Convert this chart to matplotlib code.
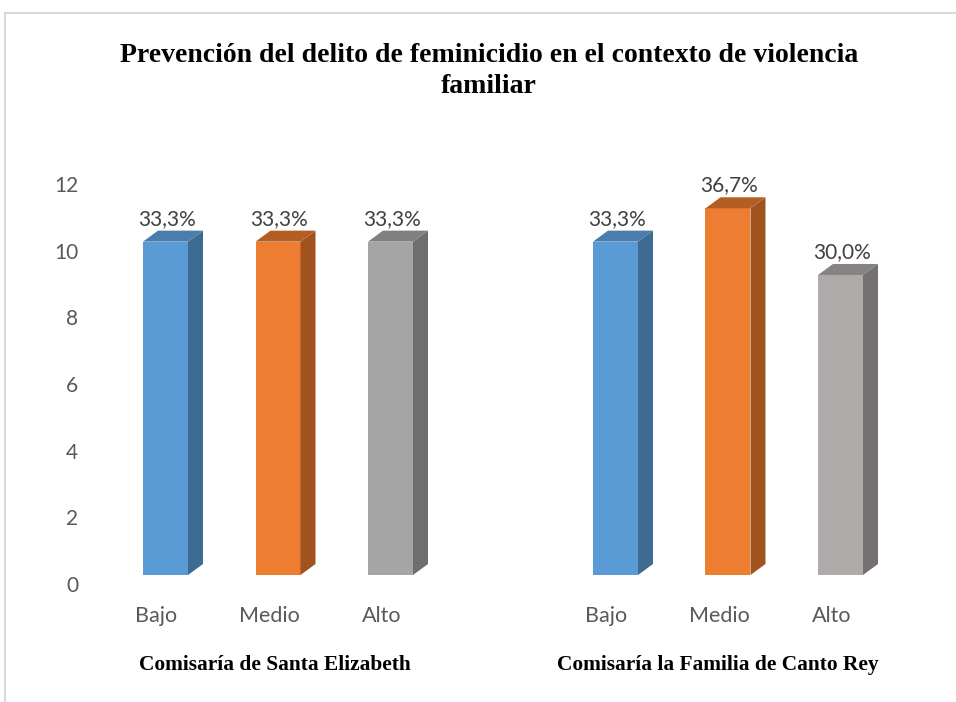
import matplotlib
matplotlib.use("Agg")
import matplotlib.pyplot as plt
from matplotlib.patches import Polygon
from matplotlib.lines import Line2D
from matplotlib.transforms import ScaledTranslation
import numpy as np

# ---- data ----
title = "Prevención del delito de feminicidio en el contexto de violencia\nfamiliar"
groups = ["Comisaría de Santa Elizabeth", "Comisaría la Familia de Canto Rey"]
levels = ["Bajo", "Medio", "Alto"]
santa_values = [10, 10, 10]
canto_values = [10, 11, 9]
y_ticks = [0, 2, 4, 6, 8, 10, 12]

# ---- styles ----
front_colors = [["#5B9BD5", "#ED7D31", "#A5A5A5"], ["#5B9BD5", "#ED7D31", "#AEAAAA"]]
side_colors = [["#3E6B92", "#A0531F", "#6E6E6E"], ["#3E6B92", "#A0531F", "#757171"]]
top_colors = [["#4A7DAE", "#B55E23", "#808080"], ["#4A7DAE", "#B55E23", "#878383"]]

W, H, DPI = 956, 702, 100
fig = plt.figure(figsize=(W / DPI, H / DPI), dpi=DPI)
fig.patch.set_facecolor("white")

ax_left_px, ax_right_px = 64.25, 941.75
ax_bottom_px, ax_top_px = 575, 158.3
ax = fig.add_axes([ax_left_px / W, (H - ax_bottom_px) / H,
                   (ax_right_px - ax_left_px) / W, (ax_bottom_px - ax_top_px) / H])
ax.set_xlim(-0.9, 6.9)
ax.set_ylim(0, 12.5)
for s in ax.spines.values():
    s.set_visible(False)
ax.set_facecolor("none")

bar_w = 0.4
dx = 15 / 112.5   # depth in x data units
dy = 11 / 33.33   # depth in y data units

all_values = [santa_values, canto_values]
positions = []
labels_x = []
for g, vals in enumerate(all_values):
    total = sum(vals)
    for i, v in enumerate(vals):
        x = g * 4 + i
        positions.append(x)
        labels_x.append(levels[i])
        x0, x1 = x - bar_w / 2, x + bar_w / 2
        # front face
        ax.add_patch(Polygon([(x0, 0), (x1, 0), (x1, v), (x0, v)], closed=True,
                             facecolor=front_colors[g][i], edgecolor="none", zorder=3))
        # side face
        ax.add_patch(Polygon([(x1, 0), (x1 + dx, dy), (x1 + dx, v + dy), (x1, v)], closed=True,
                             facecolor=side_colors[g][i], edgecolor="none", zorder=3))
        # top face
        ax.add_patch(Polygon([(x0, v), (x1, v), (x1 + dx, v + dy), (x0 + dx, v + dy)], closed=True,
                             facecolor=top_colors[g][i], edgecolor="none", zorder=3))
        pct = f"{100 * v / total:.1f}%".replace(".", ",")
        ax.annotate(pct, xy=(x, v), xytext=(0.8, 16.5), textcoords="offset points",
                    ha="center", va="center", fontsize=15, family="Lato", color="#404040")

ax.set_yticks(y_ticks)
ax.set_yticklabels([str(t) for t in y_ticks], fontsize=15, family="Lato", color="#595959")
ax.tick_params(axis="y", length=0, pad=0)
for lab in ax.get_yticklabels():
    lab.set_transform(lab.get_transform() + ScaledTranslation(14 / DPI, -9 / DPI, fig.dpi_scale_trans))

ax.set_xticks(positions)
ax.set_xticklabels(labels_x, fontsize=15.5, family="Lato", color="#595959")
ax.tick_params(axis="x", length=0, pad=22)
for lab in ax.get_xticklabels():
    lab.set_transform(lab.get_transform() + ScaledTranslation(-9 / DPI, 0, fig.dpi_scale_trans))

# group labels
for g, name in enumerate(groups):
    cx = g * 4 + 1
    ax.annotate(name, xy=(cx, 0), xycoords="data", xytext=(-3 * 0.72 if g == 0 else -10 * 0.72, -90 * 0.72),
                textcoords="offset points", ha="center", va="center",
                fontsize=15.4, family="Liberation Serif", fontweight="bold", color="black")

# title
fig.text(489 / W, 1 - 71 / H, title, ha="center", va="center", fontsize=20,
         family="Liberation Serif", fontweight="bold", linespacing=1.33)

# chart border (light gray)
fig.add_artist(Line2D([5 / W, 1], [1 - 13 / H, 1 - 13 / H], color="#D9D9D9", lw=1.5))
fig.add_artist(Line2D([5 / W, 5 / W], [0, 1 - 13 / H], color="#D9D9D9", lw=1.5))

fig.savefig("out.png", dpi=DPI, facecolor="white")
